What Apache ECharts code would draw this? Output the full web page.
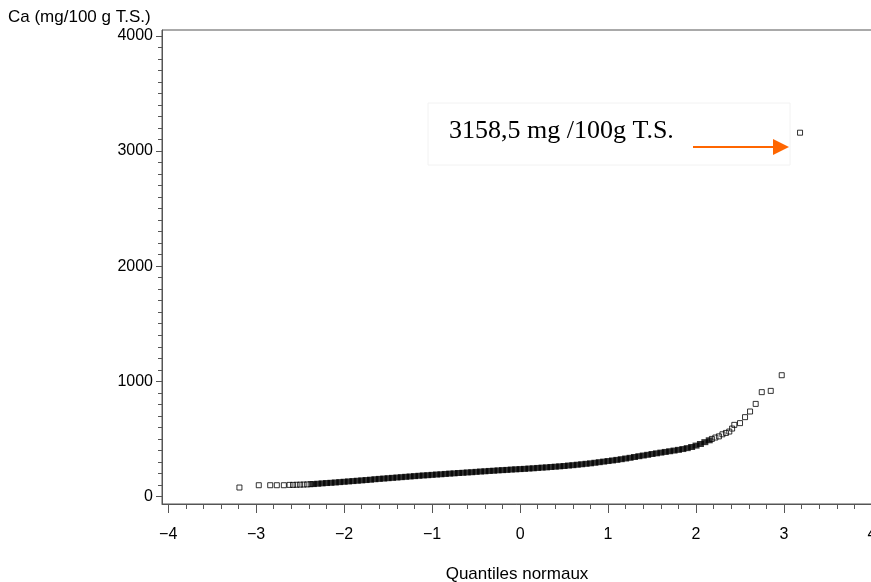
<!DOCTYPE html>
<html>
<head>
<meta charset="utf-8">
<script src="https://cdn.jsdelivr.net/npm/echarts@6/dist/echarts.min.js"></script>
<style>html,body{margin:0;padding:0;background:#fff;}#c{width:871px;height:582px;}</style>
</head>
<body>
<div id="c"></div>
<script>
// Normal quantile (x) and Ca value (y)
const bulkQuantiles = [-2.35,-2.30,-2.25,-2.20,-2.15,-2.10,-2.05,-2.00,-1.95,-1.90,-1.85,-1.80,-1.75,-1.70,-1.65,-1.60,-1.55,-1.50,-1.45,-1.40,-1.35,-1.30,-1.25,-1.20,-1.15,-1.10,-1.05,-1.00,-0.95,-0.90,-0.85,-0.80,-0.75,-0.70,-0.65,-0.60,-0.55,-0.50,-0.45,-0.40,-0.35,-0.30,-0.25,-0.20,-0.15,-0.10,-0.05,0.00,0.05,0.10,0.15,0.20,0.25,0.30,0.35,0.40,0.45,0.50,0.55,0.60,0.65,0.70,0.75,0.80,0.85,0.90,0.95,1.00,1.05,1.10,1.15,1.20,1.25,1.30,1.35,1.40,1.45,1.50,1.55,1.60,1.65,1.70,1.75,1.80,1.85,1.90,1.95,2.00,2.05,2.10,2.15];
const bulkValues = [108,111,114,117,119,122,125,128,131,134,137,140,143,146,150,153,156,159,162,165,168,171,174,177,180,183,185,188,191,193,196,199,201,204,206,209,211,214,217,219,222,224,227,229,231,234,236,238,240,243,245,248,251,253,256,259,262,265,269,272,276,280,284,288,293,298,303,308,313,318,324,330,336,343,350,356,362,369,375,381,387,393,399,405,412,420,430,442,456,472,488];
const tailQuantiles = [-3.19,-2.97,-2.84,-2.765,-2.685,-2.62,-2.58,-2.54,-2.50,-2.46,-2.42,-2.38,2.18,2.22,2.26,2.30,2.34,2.378,2.41,2.435,2.50,2.557,2.614,2.678,2.747,2.849,2.974,3.182];
const tailValues = [78,98,98,98,98,101,101,102,103,104,105,107,500,512,522,540,552,564,590,622,637,689,738,804,906,917,1053,3158.5];
const xTickLabels = [-4,-3,-2,-1,0,1,2,3,4];
const xMinorTicks = [-4,-3.8,-3.6,-3.4,-3.2,-3,-2.8,-2.6,-2.4,-2.2,-2,-1.8,-1.6,-1.4,-1.2,-1,-0.8,-0.6,-0.4,-0.2,0,0.2,0.4,0.6,0.8,1,1.2,1.4,1.6,1.8,2,2.2,2.4,2.6,2.8,3,3.2,3.4,3.6,3.8,4];
const yTickLabels = [0,1000,2000,3000,4000];
const yMinorTicks = [0,100,200,300,400,500,600,700,800,900,1000,1100,1200,1300,1400,1500,1600,1700,1800,1900,2000,2100,2200,2300,2400,2500,2600,2700,2800,2900,3000,3100,3200,3300,3400,3500,3600,3700,3800,3900,4000];
const yAxisTitle = 'Ca (mg/100 g T.S.)';
const xAxisTitle = 'Quantiles normaux';
const annotationText = '3158,5 mg /100g T.S.';

const chart = echarts.init(document.getElementById('c'), null, {renderer:'canvas'});
const AX = '#555';
const FONT = '"Liberation Sans", Arial, sans-serif';
const xMin = -4.07, xMax = 4.0, yMin = -65, yMax = 4050;
const fmtX = v => (v < 0 ? '\u2212' + Math.abs(v) : String(v));

const option = {
  animation: false,
  backgroundColor: '#fff',
  grid: {left: 162, top: 30, width: 710, bottom: 78, show: true, borderColor: AX, borderWidth: 1,
         containLabel: false, outerBoundsMode: 'none'},
  xAxis: [
    {type: 'value', min: xMin, max: xMax, position: 'bottom',
     name: xAxisTitle, nameLocation: 'middle', nameGap: 62,
     nameTextStyle: {fontFamily: FONT, fontSize: 17, color: '#000'},
     axisLine: {show: true, onZero: false, lineStyle: {color: AX, width: 1}},
     axisTick: {show: true, length: 9, customValues: xTickLabels, lineStyle: {color: AX}},
     axisLabel: {show: true, customValues: xTickLabels, margin: 23, formatter: fmtX, fontFamily: FONT, fontSize: 16, color: '#000', hideOverlap: false},
     splitLine: {show: false}},
    {type: 'value', min: xMin, max: xMax, position: 'bottom', gridIndex: 0,
     axisLine: {show: false, onZero: false},
     axisTick: {show: true, length: 5, customValues: xMinorTicks, lineStyle: {color: AX}},
     axisLabel: {show: false}, splitLine: {show: false}}
  ],
  yAxis: [
    {type: 'value', min: yMin, max: yMax, position: 'left',
     axisLine: {show: true, onZero: false, lineStyle: {color: AX, width: 1}},
     axisTick: {show: true, length: 6, customValues: yTickLabels, lineStyle: {color: AX}},
     axisLabel: {show: true, customValues: yTickLabels, margin: 9, formatter: v => String(v), fontFamily: FONT, fontSize: 16, color: '#000'},
     splitLine: {show: false}},
    {type: 'value', min: yMin, max: yMax, position: 'left',
     axisLine: {show: false, onZero: false},
     axisTick: {show: true, length: 4, customValues: yMinorTicks, lineStyle: {color: AX}},
     axisLabel: {show: false}, splitLine: {show: false}}
  ],
  series: [
    {type: 'scatter', xAxisIndex: 0, yAxisIndex: 0, symbol: 'rect', symbolSize: [7, 6],
     itemStyle: {color: '#000', borderWidth: 0},
     data: bulkQuantiles.map((q, i) => [q, bulkValues[i]])},
    {type: 'scatter', xAxisIndex: 0, yAxisIndex: 0, symbol: 'rect', symbolSize: 5,
     itemStyle: {color: 'rgba(0,0,0,0)', borderColor: '#000', borderWidth: 1},
     data: tailQuantiles.map((q, i) => [q, tailValues[i]]), z: 5}
  ],
  graphic: [
    {type: 'text', left: 8, top: 9, style: {text: yAxisTitle, font: '17px ' + FONT, fill: '#000'}},
    {type: 'rect', shape: {x: 428, y: 103, width: 362, height: 62}, style: {fill: '#fff', stroke: '#f2f2f2', lineWidth: 1}, z: 1},
    {type: 'text', x: 449, y: 131, style: {text: annotationText, font: '26px "Liberation Serif", "Times New Roman", serif', fill: '#000', textVerticalAlign: 'middle', textAlign: 'left'}, z: 11},
    {type: 'line', shape: {x1: 693, y1: 147, x2: 776, y2: 147}, style: {stroke: '#FF6600', lineWidth: 2}, z: 11},
    {type: 'polygon', shape: {points: [[773, 139], [789, 147], [773, 155]]}, style: {fill: '#FF6600'}, z: 11}
  ]
};
chart.setOption(option);
</script>
</body>
</html>
